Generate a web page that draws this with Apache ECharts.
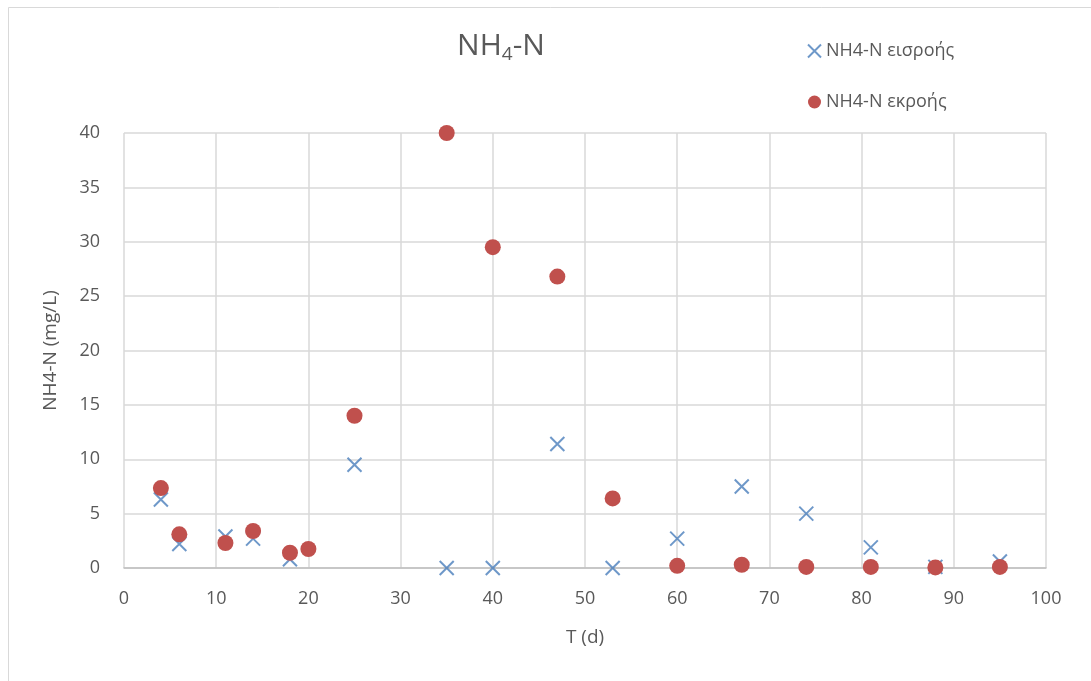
<!DOCTYPE html>
<html>
<head>
<meta charset="utf-8">
<script src="https://cdn.jsdelivr.net/npm/echarts@6/dist/echarts.min.js"></script>
<style>
  html, body { margin: 0; padding: 0; background: #ffffff; }
  #chart { width: 1091px; height: 681px; }
</style>
</head>
<body>
<div id="chart"></div>
<script>
// Sampling days (d)
const days = [4, 6, 11, 14, 18, 20, 25, 35, 40, 47, 53, 60, 67, 74, 81, 88, 95];
// NH4-N influent (mg/L); no influent sample on day 20
const inflow = [6.3, 2.2, 2.9, 2.7, 0.8, null, 9.5, 0.0, 0.0, 11.4, 0.0, 2.7, 7.5, 5.0, 1.9, 0.1, 0.6];
// NH4-N effluent (mg/L)
const outflow = [7.35, 3.1, 2.3, 3.4, 1.4, 1.75, 14.0, 40.0, 29.5, 26.8, 6.4, 0.2, 0.3, 0.1, 0.1, 0.05, 0.1];

const inflowName = 'NH4-N εισροής';
const outflowName = 'NH4-N εκροής';

const pairs = (xs, ys) => xs.map((x, i) => [x, ys[i]]).filter(p => p[1] !== null);

const FONT = '"Open Sans", "Noto Sans", sans-serif';
const TEXT = '#595959';

const chart = echarts.init(document.getElementById('chart'), null, { renderer: 'canvas' });
chart.setOption({
  backgroundColor: '#ffffff',
  animation: false,
  textStyle: { fontFamily: FONT, color: TEXT },
  title: {
    text: '{b|NH}{s|4}{b|-N}',
    left: 496, top: 24, textAlign: 'center',
    textStyle: {
      rich: {
        b: { fontSize: 30, fontWeight: 'normal', color: TEXT, fontFamily: FONT },
        s: { fontSize: 19, fontWeight: 'normal', color: TEXT, fontFamily: FONT, padding: [16, 0, 0, 0] }
      }
    }
  },
  legend: {
    orient: 'vertical',
    left: 802, top: 37,
    itemGap: 33,
    itemWidth: 13, itemHeight: 13,
    textStyle: { fontSize: 18, color: TEXT, fontFamily: FONT },
    data: [inflowName, outflowName]
  },
  grid: { left: 124, right: 45, top: 133, bottom: 113 },
  xAxis: {
    type: 'value', min: 0, max: 100, interval: 10,
    name: 'T (d)', nameLocation: 'middle', nameGap: 60,
    nameTextStyle: { fontSize: 19, color: TEXT, fontFamily: FONT },
    axisLine: { show: true, lineStyle: { color: '#bfbfbf', width: 1.5 } },
    axisTick: { show: false },
    axisLabel: { fontSize: 18, color: TEXT, margin: 22 },
    splitLine: { show: true, lineStyle: { color: '#d9d9d9', width: 1.5 } }
  },
  yAxis: {
    type: 'value', min: 0, max: 40, interval: 5,
    name: 'NH4-N (mg/L)', nameLocation: 'middle', nameGap: 64,
    nameTextStyle: { fontSize: 19, color: TEXT, fontFamily: FONT },
    axisLine: { show: false },
    axisTick: { show: false },
    axisLabel: { fontSize: 18, color: TEXT, margin: 24 },
    splitLine: { show: true, lineStyle: { color: '#d9d9d9', width: 1.5 } }
  },
  graphic: [{
    type: 'rect', silent: true,
    shape: { x: 8.5, y: 7.5, width: 1200, height: 800 },
    style: { fill: 'none', stroke: '#d9d9d9', lineWidth: 1 }
  }],
  series: [
    {
      name: inflowName, type: 'scatter',
      symbol: 'path://M0,0L10,10M10,0L0,10',
      symbolSize: 14,
      itemStyle: { color: 'rgba(0,0,0,0)', borderColor: '#4a7ebb', borderWidth: 2 },
      data: pairs(days, inflow), z: 3
    },
    {
      name: outflowName, type: 'scatter',
      symbol: 'circle', symbolSize: 16,
      itemStyle: { color: '#c0504d', opacity: 1 },
      data: pairs(days, outflow), z: 4
    }
  ]
});
</script>
</body>
</html>
